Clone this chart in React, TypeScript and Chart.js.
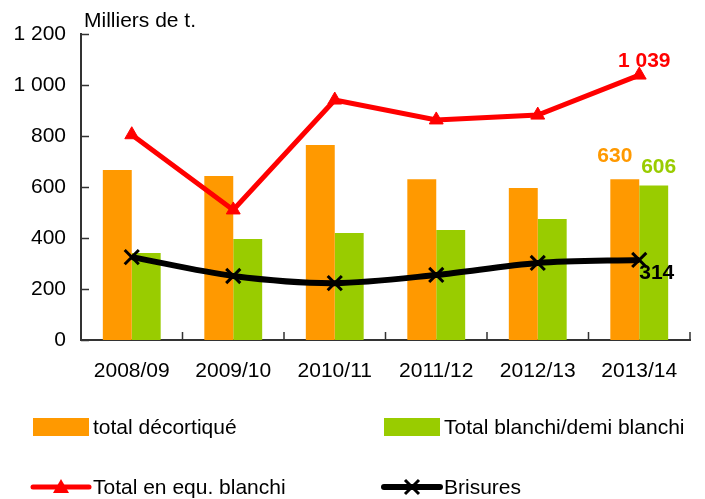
import React, { useEffect, useRef } from 'react';
import { Chart, registerables } from 'chart.js';

Chart.register(...registerables);

const categories = ['2008/09', '2009/10', '2010/11', '2011/12', '2012/13', '2013/14'];
const decortique = [667, 643, 765, 630, 596, 630];
const blanchi = [341, 396, 420, 431, 475, 606];
const equBlanchi = [805, 510, 941, 863, 882, 1039];
const brisures = [325, 251, 223, 255, 302, 314];
const yTicks = [0, 200, 400, 600, 800, 1000, 1200];

const legendItems = [
  { label: 'total décortiqué', kind: 'box', color: '#FF9900' },
  { label: 'Total blanchi/demi blanchi', kind: 'box', color: '#99CC00' },
  { label: 'Total en equ. blanchi', kind: 'tri', color: '#FF0000' },
  { label: 'Brisures', kind: 'cross', color: '#000000' },
];

const FONT = '"Liberation Sans", Arial, sans-serif';
const fmt = (v: number) => {
  const s = String(Math.round(v));
  return s.replace(/\B(?=(\d{3})+(?!\d))/g, ' ');
};

const overlay = {
  id: 'overlay',
  afterDraw(chart: any) {
    const ctx = chart.ctx as CanvasRenderingContext2D;
    const ys = chart.scales.y;
    const area = chart.chartArea;
    ctx.save();
    // inner tick marks
    ctx.strokeStyle = '#333333';
    ctx.lineWidth = 1.5;
    ctx.beginPath();
    yTicks.forEach((t) => {
      const y = Math.round(ys.getPixelForValue(t)) + 0.5;
      ctx.moveTo(area.left, y);
      ctx.lineTo(area.left + 8, y);
    });
    const cw = (area.right - area.left) / categories.length;
    for (let i = 0; i <= categories.length; i++) {
      const x = area.left + cw * i;
      ctx.moveTo(x, area.bottom);
      ctx.lineTo(x, area.bottom - 8);
    }
    ctx.stroke();

    // title
    ctx.fillStyle = '#000';
    ctx.font = `21px ${FONT}`;
    ctx.textAlign = 'left';
    ctx.textBaseline = 'alphabetic';
    ctx.fillText('Milliers de t.', 84, 27);

    // data labels
    const last = categories.length - 1;
    const mOr = chart.getDatasetMeta(2).data[last];
    const mGr = chart.getDatasetMeta(3).data[last];
    const mRed = chart.getDatasetMeta(0).data[last];
    const mBlk = chart.getDatasetMeta(1).data[last];
    ctx.font = `bold 21px ${FONT}`;
    ctx.textAlign = 'center';
    ctx.fillStyle = '#FF0000';
    ctx.fillText(fmt(equBlanchi[last]), mRed.x + 5, mRed.y - 8);
    ctx.fillStyle = '#FF9900';
    ctx.fillText(fmt(decortique[last]), mOr.x - 10, mOr.y - 17);
    ctx.fillStyle = '#99CC00';
    ctx.fillText(fmt(blanchi[last]), mGr.x + 5, mGr.y - 12);
    ctx.fillStyle = '#000';
    ctx.textAlign = 'left';
    ctx.fillText(fmt(brisures[last]), mBlk.x, mBlk.y + 19);

    // legend
    ctx.font = `21px ${FONT}`;
    ctx.textAlign = 'left';
    const cols = [33, 384];
    const rows = [427, 487];
    legendItems.forEach((it, i) => {
      const x = cols[i % 2];
      const y = rows[Math.floor(i / 2)];
      if (it.kind === 'box') {
        ctx.fillStyle = it.color;
        ctx.fillRect(x, y - 9, 56, 18);
      } else {
        ctx.strokeStyle = it.color;
        ctx.lineCap = 'round';
        ctx.lineWidth = it.kind === 'tri' ? 5 : 6;
        ctx.beginPath();
        ctx.moveTo(x, y);
        ctx.lineTo(x + 56, y);
        ctx.stroke();
        const cx = x + 28;
        if (it.kind === 'tri') {
          ctx.fillStyle = it.color;
          ctx.beginPath();
          ctx.moveTo(cx, y - 8);
          ctx.lineTo(cx + 8, y + 6);
          ctx.lineTo(cx - 8, y + 6);
          ctx.closePath();
          ctx.fill();
        } else {
          ctx.lineWidth = 3;
          ctx.lineCap = 'butt';
          ctx.beginPath();
          ctx.moveTo(cx - 7, y - 7);
          ctx.lineTo(cx + 7, y + 7);
          ctx.moveTo(cx + 7, y - 7);
          ctx.lineTo(cx - 7, y + 7);
          ctx.stroke();
        }
      }
      ctx.fillStyle = '#000';
      ctx.fillText(it.label, x + 60, y + 7);
    });
    ctx.restore();
  },
};

export default function App() {
  const ref = useRef<HTMLCanvasElement | null>(null);
  useEffect(() => {
    if (!ref.current) return;
    const chart = new Chart(ref.current, {
      type: 'bar',
      data: {
        labels: categories,
        datasets: [
          {
            type: 'line',
            label: 'Total en equ. blanchi',
            data: equBlanchi,
            borderColor: '#FF0000',
            backgroundColor: '#FF0000',
            borderWidth: 5,
            pointStyle: 'triangle',
            pointRadius: 8,
            pointBorderWidth: 1,
            tension: 0,
            order: 0,
          } as any,
          {
            type: 'line',
            label: 'Brisures',
            data: brisures,
            borderColor: '#000000',
            backgroundColor: '#000000',
            borderWidth: 6,
            pointStyle: 'crossRot',
            pointRadius: 10,
            pointBorderWidth: 3,
            tension: 0.3,
            order: 0,
          } as any,
          {
            label: 'total décortiqué',
            data: decortique,
            backgroundColor: '#FF9900',
            categoryPercentage: 0.57,
            barPercentage: 1,
            order: 1,
          },
          {
            label: 'Total blanchi/demi blanchi',
            data: blanchi,
            backgroundColor: '#99CC00',
            categoryPercentage: 0.57,
            barPercentage: 1,
            order: 1,
          },
        ],
      },
      options: {
        responsive: false,
        animation: false,
        layout: { padding: { top: 34, right: 15, bottom: 89, left: 0 } },
        plugins: { legend: { display: false }, tooltip: { enabled: false } },
        scales: {
          x: {
            grid: { display: false, drawTicks: false },
            border: { display: true, color: '#333333', width: 2 },
            ticks: { color: '#000', font: { family: FONT, size: 21 }, padding: 19 },
            afterFit: (s: any) => { s.height = 70; },
          },
          y: {
            min: 0,
            max: 1200,
            grid: { display: false, drawTicks: false },
            border: { display: true, color: '#333333', width: 2 },
            ticks: {
              stepSize: 200,
              color: '#000',
              font: { family: FONT, size: 21 },
              padding: 15,
              callback: (v: any) => fmt(Number(v)),
            },
            afterFit: (s: any) => { s.width = 81; },
          },
        },
      },
      plugins: [overlay],
    });
    return () => chart.destroy();
  }, []);
  return (
    <div style={{ position: 'absolute', left: 0, top: 0, width: 705, height: 499, background: '#fff' }}>
      <canvas ref={ref} width={705} height={499} style={{ width: 705, height: 499 }} />
    </div>
  );
}
